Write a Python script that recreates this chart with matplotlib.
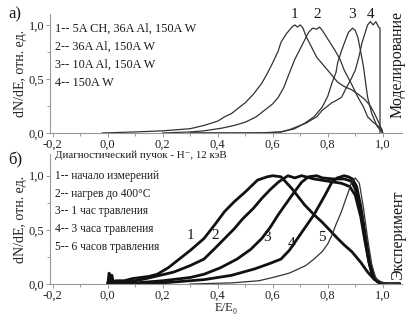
import matplotlib
matplotlib.use('Agg')
import matplotlib.pyplot as plt
from matplotlib.ticker import FuncFormatter, MultipleLocator

plt.rcParams['font.family'] = ['Liberation Serif', 'DejaVu Serif']

# --- simulation (panel a) ---
sim_labels = ['1-- 5A CH, 36A Al, 150A W', '2-- 36A Al, 150A W',
              '3-- 10A Al, 150A W', '4-- 150A W']

sim1_x = [-0.02, 0.1, 0.2, 0.3, 0.35, 0.4, 0.425, 0.45, 0.5, 0.53, 0.56, 0.58, 0.6, 0.62,
          0.63, 0.65, 0.67, 0.68, 0.69, 0.70, 0.71, 0.72, 0.74, 0.76, 0.79, 0.81, 0.836,
          0.86, 0.887, 0.91, 0.935, 0.955, 0.97, 0.985, 0.996, 1.0]
sim1_y = [0.0, 0.01, 0.02, 0.04, 0.07, 0.11, 0.15, 0.18, 0.28, 0.36, 0.46, 0.55, 0.65, 0.76,
          0.84, 0.92, 0.98, 1.0, 0.98, 1.0, 0.97, 0.90, 0.80, 0.70, 0.61, 0.55, 0.47,
          0.43, 0.40, 0.36, 0.31, 0.25, 0.18, 0.10, 0.03, 0.0]

sim2_x = [0.2, 0.3, 0.35, 0.415, 0.46, 0.5, 0.54, 0.57, 0.6, 0.62, 0.64, 0.655, 0.68, 0.70,
          0.716, 0.73, 0.745, 0.76, 0.77, 0.78, 0.8, 0.825, 0.845, 0.86, 0.885, 0.91, 0.93,
          0.945, 0.965, 0.98, 0.996, 1.0]
sim2_y = [0.0, 0.01, 0.02, 0.045, 0.07, 0.10, 0.15, 0.21, 0.27, 0.33, 0.42, 0.52, 0.68, 0.78,
          0.86, 0.93, 0.97, 0.96, 0.98, 0.95, 0.87, 0.77, 0.68, 0.58, 0.46, 0.33, 0.24,
          0.15, 0.10, 0.07, 0.04, 0.0]

sim3_x = [0.3, 0.5, 0.6, 0.63, 0.68, 0.716, 0.75, 0.78, 0.8, 0.815, 0.83, 0.836, 0.85, 0.86,
          0.875, 0.89, 0.9, 0.91, 0.92, 0.93, 0.945, 0.96, 0.98, 1.0]
sim3_y = [0.0, 0.0, 0.005, 0.01, 0.04, 0.09, 0.15, 0.24, 0.34, 0.46, 0.56, 0.65, 0.76, 0.83,
          0.93, 0.97, 0.95, 0.88, 0.75, 0.61, 0.33, 0.18, 0.06, 0.0]

sim4_x = [0.3, 0.55, 0.63, 0.66, 0.69, 0.72, 0.74, 0.76, 0.78, 0.8, 0.815, 0.83, 0.85, 0.87,
          0.885, 0.9, 0.915, 0.924, 0.935, 0.945, 0.955, 0.965, 0.975, 0.985, 0.99, 0.99]
sim4_y = [0.0, 0.0, 0.01, 0.03, 0.06, 0.09, 0.12, 0.15, 0.21, 0.25, 0.28, 0.30, 0.33, 0.43,
          0.50, 0.58, 0.72, 0.83, 0.92, 1.0, 1.03, 1.0, 1.03, 0.98, 0.97, 0.0]

# --- experiment (panel b) ---
exp_title = 'Диагностический пучок - H⁻, 12 кэВ'
exp_labels = ['1-- начало измерений', '2-- нагрев до 400°C', '3-- 1 час травления',
              '4-- 3 часа травления', '5-- 6 часов травления']

exp1_x = [0.0, 0.005, 0.01, 0.015, 0.02, 0.03, 0.06, 0.09, 0.12, 0.15, 0.18, 0.22, 0.26,
          0.30, 0.35, 0.39, 0.425, 0.46, 0.50, 0.545, 0.58, 0.60, 0.63, 0.67, 0.716, 0.75,
          0.78, 0.81, 0.836, 0.86, 0.887, 0.92, 0.945, 0.97, 0.99, 1.02, 1.06]
exp1_y = [0.0, 0.1, 0.02, 0.08, 0.02, 0.03, 0.03, 0.05, 0.06, 0.07, 0.09, 0.15, 0.23,
          0.31, 0.42, 0.55, 0.67, 0.76, 0.85, 0.96, 0.99, 1.0, 0.99, 0.88, 0.73, 0.64,
          0.57, 0.49, 0.42, 0.36, 0.30, 0.20, 0.11, 0.04, 0.01, 0.0, 0.0]

exp2_x = [0.0, 0.01, 0.02, 0.05, 0.1, 0.14, 0.19, 0.24, 0.30, 0.35, 0.39, 0.425, 0.46, 0.49,
          0.53, 0.56, 0.59, 0.62, 0.655, 0.68, 0.705, 0.75, 0.80, 0.85, 0.88, 0.9, 0.92,
          0.935, 0.95, 0.96, 0.97, 0.99, 1.02, 1.06]
exp2_y = [0.0, 0.08, 0.01, 0.02, 0.03, 0.05, 0.08, 0.11, 0.17, 0.23, 0.33, 0.42, 0.51, 0.60,
          0.70, 0.79, 0.87, 0.94, 1.0, 0.98, 1.0, 0.97, 0.95, 0.93, 0.90, 0.82, 0.62,
          0.40, 0.20, 0.10, 0.05, 0.01, 0.0, 0.0]

exp3_x = [0.0, 0.02, 0.1, 0.2, 0.3, 0.35, 0.41, 0.47, 0.52, 0.56, 0.59, 0.62, 0.645, 0.67,
          0.705, 0.73, 0.76, 0.78, 0.82, 0.86, 0.885, 0.9, 0.92, 0.935, 0.95, 0.96, 0.975,
          0.99, 1.02, 1.06]
exp3_y = [0.0, 0.01, 0.01, 0.03, 0.06, 0.09, 0.15, 0.23, 0.32, 0.42, 0.52, 0.64, 0.73, 0.82,
          0.94, 0.99, 1.0, 0.98, 0.97, 0.97, 0.95, 0.88, 0.68, 0.42, 0.20, 0.10, 0.04,
          0.01, 0.0, 0.0]

exp4_x = [0.0, 0.1, 0.2, 0.3, 0.35, 0.45, 0.535, 0.59, 0.63, 0.66, 0.69, 0.72, 0.75, 0.77,
          0.79, 0.815, 0.835, 0.86, 0.875, 0.89, 0.905, 0.92, 0.935, 0.95, 0.965, 0.98,
          1.0, 1.06]
exp4_y = [0.0, 0.0, 0.01, 0.03, 0.04, 0.08, 0.14, 0.19, 0.23, 0.31, 0.42, 0.53, 0.64, 0.73,
          0.82, 0.94, 0.98, 1.0, 0.99, 0.97, 0.90, 0.72, 0.48, 0.24, 0.09, 0.02, 0.0, 0.0]

exp5_x = [0.3, 0.45, 0.55, 0.6, 0.66, 0.72, 0.75, 0.78, 0.8, 0.815, 0.83, 0.85, 0.865,
          0.875, 0.885, 0.9, 0.915, 0.93, 0.945, 0.96, 0.975, 1.0, 1.06]
exp5_y = [0.0, 0.01, 0.03, 0.06, 0.10, 0.17, 0.23, 0.30, 0.37, 0.45, 0.55, 0.67, 0.78,
          0.85, 0.93, 0.98, 0.93, 0.70, 0.42, 0.18, 0.05, 0.01, 0.0]

comma = FuncFormatter(lambda v, pos: f'{v:.1f}'.replace('.', ','))


def style_axes(ax, ytop):
    ax.set_xlim(-0.21, 1.07)
    ax.set_ylim(0, ytop)
    ax.xaxis.set_major_locator(MultipleLocator(0.2))
    ax.xaxis.set_minor_locator(MultipleLocator(0.1))
    ax.yaxis.set_major_locator(MultipleLocator(0.5))
    ax.yaxis.set_minor_locator(MultipleLocator(0.25))
    ax.xaxis.set_major_formatter(comma)
    ax.yaxis.set_major_formatter(comma)
    for side in ['top', 'right']:
        ax.spines[side].set_visible(False)
    for side in ['left', 'bottom']:
        ax.spines[side].set_color('#999999')
        ax.spines[side].set_linewidth(0.8)
    ax.tick_params(which='both', direction='out', colors='#999999', labelcolor='#222222',
                   labelsize=9, length=3, width=0.7, pad=1)
    ax.tick_params(which='minor', length=2)
    ax.set_ylabel('dN/dE, отн. ед.', fontsize=10, color='#222222', labelpad=1)


fig = plt.figure(figsize=(4.1, 3.24), dpi=100)
ax1 = fig.add_axes([50 / 410, 0.5895, 352 / 410, 0.367])
ax2 = fig.add_axes([50 / 410, 0.1235, 352 / 410, 0.401])

# panel a
for xs, ys in [(sim1_x, sim1_y), (sim2_x, sim2_y), (sim3_x, sim3_y), (sim4_x, sim4_y)]:
    ax1.plot(xs, ys, color='#333333', lw=0.9)
style_axes(ax1, 1.1)
for i, t in enumerate(sim_labels):
    ax1.text(-0.19, 0.96 - i * 0.165, t, fontsize=8.8, color='#1a1a1a', va='center')
for lab, xp in zip(['1', '2', '3', '4'], [0.68, 0.76, 0.89, 0.955]):
    ax1.text(xp, 1.04, lab, fontsize=11, color='#1a1a1a', ha='center', va='bottom')

# panel b
for xs, ys in [(exp1_x, exp1_y), (exp2_x, exp2_y), (exp3_x, exp3_y), (exp4_x, exp4_y)]:
    ax2.plot(xs, ys, color='#111111', lw=2.0)
ax2.plot(exp5_x, exp5_y, color='#333333', lw=0.9)
style_axes(ax2, 1.2)
ax2.text(-0.19, 1.19, exp_title, fontsize=7.8, color='#1a1a1a', va='center')
for i, t in enumerate(exp_labels):
    ax2.text(-0.19, 1.0 - i * 0.165, t, fontsize=8.3, color='#1a1a1a', va='center')
for lab, xp, yp in zip(['1', '2', '3', '4', '5'], [0.30, 0.39, 0.58, 0.67, 0.78],
                       [0.45, 0.45, 0.43, 0.37, 0.43]):
    ax2.text(xp, yp, lab, fontsize=11, color='#1a1a1a', ha='center', va='center')
ax2.set_xlabel('E/E₀', fontsize=9, color='#222222', labelpad=0)

fig.text(0.02, 0.955, 'а)', fontsize=12, color='#1a1a1a', va='center')
fig.text(0.02, 0.505, 'б)', fontsize=12, color='#1a1a1a', va='center')
fig.text(0.97, 0.80, 'Моделирование', rotation=90, fontsize=11.5, color='#1a1a1a',
         ha='center', va='center')
fig.text(0.97, 0.275, 'Эксперимент', rotation=90, fontsize=11.5, color='#1a1a1a',
         ha='center', va='center')

fig.savefig('out.png', dpi=100)
